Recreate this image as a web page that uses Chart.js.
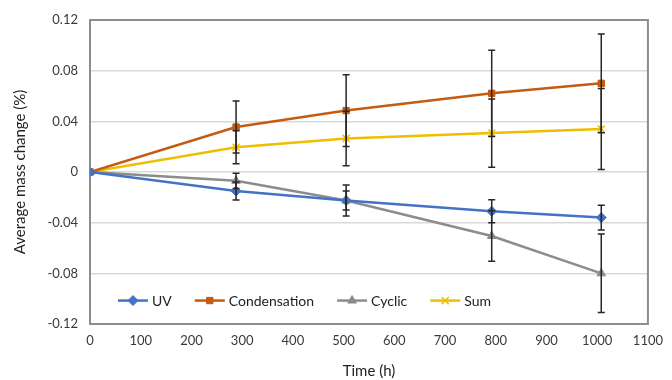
<!DOCTYPE html>
<html>
<head>
<meta charset="utf-8">
<script src="https://cdn.jsdelivr.net/npm/chart.js@4"></script>
<style>
  html, body { margin: 0; padding: 0; background: #fff; }
  #wrap { width: 672px; height: 380px; }
</style>
</head>
<body>
<div id="wrap"><canvas id="graph"></canvas></div>
<script>
// time points (h)
const times = [0, 288, 505, 792, 1008];

// average mass change (%) and error bar half-widths
const uv = [0, -0.0150, -0.0225, -0.0310, -0.0360];
const uvErr = [0, 0.0072, 0.0075, 0.0090, 0.0097];
const condensation = [0, 0.0355, 0.0485, 0.0621, 0.0700];
const condensationErr = [0, 0.0205, 0.0283, 0.0340, 0.0390];
const cyclic = [0, -0.0070, -0.0225, -0.0505, -0.0800];
const cyclicErr = [0, 0.0060, 0.0123, 0.0200, 0.0310];
const sum = [0, 0.0195, 0.0265, 0.0307, 0.0340];
const sumErr = [0, 0.0130, 0.0215, 0.0270, 0.0320];

const seriesNames = ["UV", "Condensation", "Cyclic", "Sum"];
const seriesColors = ["#4472C4", "#C55A11", "#8C8C8C", "#F0BE00"];
const seriesMarkers = ["rectRot", "rect", "triangle", "crossRot"];
const seriesValues = [uv, condensation, cyclic, sum];
const seriesErrors = [uvErr, condensationErr, cyclicErr, sumErr];

const FONT = "Lato, 'Open Sans', sans-serif";

const toPoints = (vals) => vals.map((v, i) => ({ x: times[i], y: v }));

// plot frame on all four sides
const framePlugin = {
  id: "frame",
  beforeDatasetsDraw(chart) {
    const { ctx, chartArea: a } = chart;
    ctx.save();
    ctx.strokeStyle = "#8C8C8C";
    ctx.lineWidth = 2;
    ctx.strokeRect(a.left, a.top, a.right - a.left, a.bottom - a.top);
    ctx.restore();
  },
};

// vertical error bars with caps
const errorBarPlugin = {
  id: "errorBars",
  afterDatasetsDraw(chart) {
    const { ctx, scales } = chart;
    ctx.save();
    ctx.strokeStyle = "#262626";
    ctx.lineWidth = 1.5;
    seriesValues.forEach((vals, s) => {
      vals.forEach((v, i) => {
        const e = seriesErrors[s][i];
        if (!e) return;
        const x = scales.x.getPixelForValue(times[i]);
        const yTop = scales.y.getPixelForValue(v + e);
        const yBot = scales.y.getPixelForValue(v - e);
        ctx.beginPath();
        ctx.moveTo(x, yTop);
        ctx.lineTo(x, yBot);
        ctx.moveTo(x - 3.5, yTop);
        ctx.lineTo(x + 3.5, yTop);
        ctx.moveTo(x - 3.5, yBot);
        ctx.lineTo(x + 3.5, yBot);
        ctx.stroke();
      });
    });
    ctx.restore();
  },
};

// legend inside the plot area, near the bottom
const insideLegendPlugin = {
  id: "insideLegend",
  afterDraw(chart) {
    const { ctx, scales } = chart;
    const y = scales.y.getPixelForValue(-0.1015);
    let x = chart.chartArea.left + 28;
    ctx.save();
    ctx.font = "14px " + FONT;
    ctx.textBaseline = "middle";
    ctx.textAlign = "left";
    seriesNames.forEach((name, s) => {
      const color = seriesColors[s];
      ctx.strokeStyle = color;
      ctx.fillStyle = color;
      ctx.lineWidth = 2.5;
      ctx.beginPath();
      ctx.moveTo(x, y);
      ctx.lineTo(x + 30, y);
      ctx.stroke();
      ctx.lineWidth = seriesMarkers[s] === "crossRot" ? 1.5 : 1;
      Chart.helpers.drawPoint(
        ctx,
        {
          pointStyle: seriesMarkers[s],
          radius: seriesMarkers[s] === "rect" ? 4.5 : 5,
          rotation: 0,
          borderWidth: ctx.lineWidth,
        },
        x + 15,
        y
      );
      ctx.fillStyle = "#222";
      ctx.fillText(name, x + 34, y + 1);
      x += 34 + ctx.measureText(name).width + 23;
    });
    ctx.restore();
  },
};

const datasets = seriesNames.map((name, s) => ({
  label: name,
  data: toPoints(seriesValues[s]),
  borderColor: seriesColors[s],
  backgroundColor: seriesColors[s],
  borderWidth: 2.5,
  pointStyle: seriesMarkers[s],
  pointRadius: seriesMarkers[s] === "rect" ? 4.5 : 5,
  pointBorderWidth: seriesMarkers[s] === "crossRot" ? 1.5 : 1,
  pointBackgroundColor: seriesColors[s],
  pointBorderColor: seriesColors[s],
  tension: 0,
}));

const ctx = document.getElementById("graph").getContext("2d");
new Chart(ctx, {
  type: "line",
  data: { datasets },
  options: {
    responsive: true,
    maintainAspectRatio: false,
    animation: false,
    layout: { padding: { top: 20, right: 15, left: 0, bottom: 0 } },
    scales: {
      x: {
        type: "linear",
        min: 0,
        max: 1100,
        ticks: {
          stepSize: 100,
          color: "#3a3a3a",
          font: { family: FONT, size: 13 },
          padding: 9,
          callback(value) {
            return String(value);
          },
        },
        grid: { display: false, drawTicks: false },
        border: { display: false },
        title: {
          display: true,
          text: "Time (h)",
          color: "#222",
          font: { family: FONT, size: 15 },
          padding: { top: 4, bottom: 0 },
        },
        afterFit(scale) {
          scale.height = 56;
        },
      },
      y: {
        min: -0.12,
        max: 0.12,
        ticks: {
          stepSize: 0.04,
          color: "#3a3a3a",
          font: { family: FONT, size: 13 },
          padding: 12,
          callback(value) {
            return String(Number(value.toFixed(2)));
          },
        },
        grid: { color: "#D9D9D9", lineWidth: 1.5, drawTicks: false },
        border: { display: false },
        title: {
          display: true,
          text: "Average mass change (%)",
          color: "#222",
          font: { family: FONT, size: 15 },
          padding: { top: 11, bottom: 4 },
        },
        afterFit(scale) {
          scale.width = 90;
        },
      },
    },
    plugins: {
      legend: { display: false },
      tooltip: { enabled: false },
    },
  },
  plugins: [framePlugin, errorBarPlugin, insideLegendPlugin],
});
</script>
</body>
</html>
